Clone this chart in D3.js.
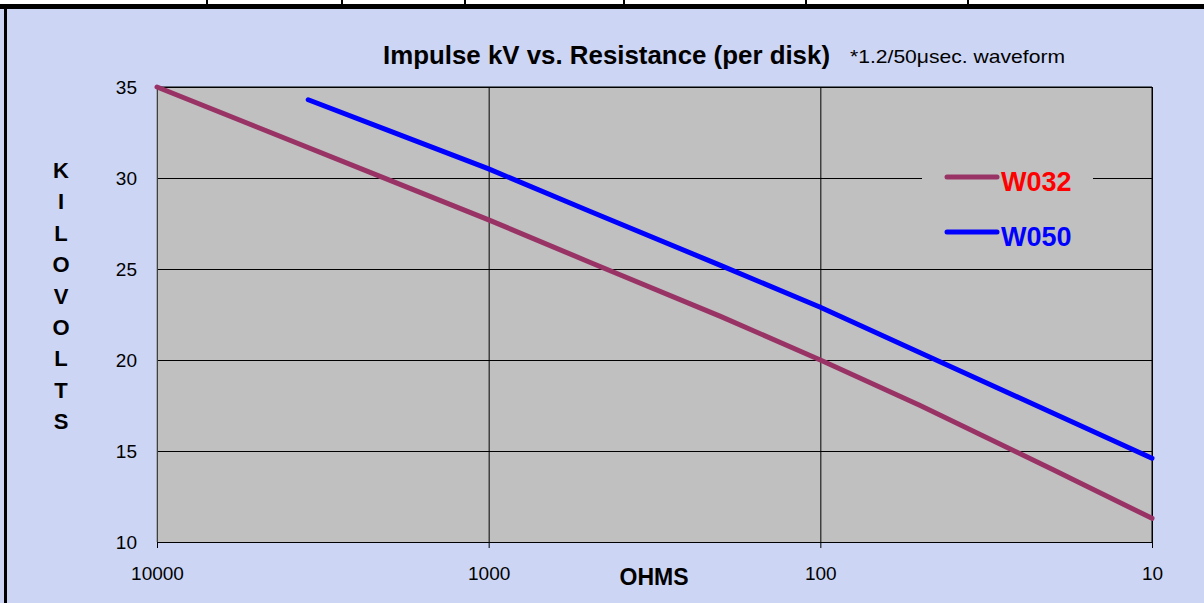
<!DOCTYPE html>
<html>
<head>
<meta charset="utf-8">
<script src="https://cdn.jsdelivr.net/npm/d3@7"></script>
<style>
  body { margin: 0; background: #fff; }
  svg { display: block; font-family: "Liberation Sans", Arial, sans-serif; }
</style>
</head>
<body>
<div id="chart"></div>
<script>
// values
const w032Ohms = [10000, 5000, 2000, 1000, 500, 200, 100, 50, 20, 10];
const w032Kv   = [35.0, 32.8, 29.9, 27.7, 25.4, 22.4, 20.0, 17.5, 14.0, 11.3];
const w050Ohms = [3500, 2000, 1000, 500, 200, 100, 50, 20, 10];
const w050Kv   = [34.3, 32.6, 30.5, 28.2, 25.2, 22.9, 20.4, 17.1, 14.6];
const xTicks = [10000, 1000, 100, 10];
const yTicks = [10, 15, 20, 25, 30, 35];
const seriesNames = ["W032", "W050"];
const yLabel = "KILOVOLTS";

const svgWidth = 1204, svgHeight = 603;
const margin = {top: 87, right: 52, bottom: 61, left: 157};
const width = svgWidth - margin.left - margin.right,
      height = svgHeight - margin.top - margin.bottom;

const svg = d3.select("#chart").append("svg")
  .attr("width", svgWidth)
  .attr("height", svgHeight);

// page background + frame from the surrounding sheet
svg.append("rect").attr("width", svgWidth).attr("height", svgHeight).attr("fill", "#ccd5f4");
svg.append("rect").attr("x", 0).attr("y", 0).attr("width", svgWidth).attr("height", 4).attr("fill", "#fff");
[207, 342, 465, 624, 806, 968].forEach(function(cx) {
  svg.append("rect").attr("x", cx - 1).attr("y", 0).attr("width", 2).attr("height", 4).attr("fill", "#000");
});
svg.append("rect").attr("x", 0).attr("y", 4).attr("width", svgWidth).attr("height", 5).attr("fill", "#000");
svg.append("rect").attr("x", 4).attr("y", 4).attr("width", 3).attr("height", svgHeight).attr("fill", "#000");

const x = d3.scaleLog().domain([10000, 10]).range([0, width]);
const y = d3.scaleLinear().domain([10, 35]).range([height, 0]);

const g = svg.append("g").attr("transform", "translate(" + margin.left + "," + margin.top + ")");

g.append("rect").attr("width", width).attr("height", height).attr("fill", "#c0c0c0");

// grid
g.append("g")
  .call(d3.axisLeft(y).tickValues(yTicks).tickSize(-width).tickFormat(""))
  .call(function(s) { s.select(".domain").remove(); })
  .selectAll("line").attr("stroke", "#000").attr("stroke-width", 1);
g.append("g")
  .call(d3.axisTop(x).tickValues(xTicks).tickSize(-height).tickFormat(""))
  .call(function(s) { s.select(".domain").remove(); })
  .selectAll("line").attr("stroke", "#000").attr("stroke-width", 1);

// legend background breaks the 30 gridline
g.append("rect")
  .attr("x", 922 - margin.left).attr("y", 150 - margin.top)
  .attr("width", 171).attr("height", 110)
  .attr("fill", "#c0c0c0");

// frame
g.append("line").attr("x1", 0).attr("x2", width).attr("y1", 0).attr("y2", 0).attr("stroke", "#000");
g.append("line").attr("x1", width).attr("x2", width).attr("y1", 0).attr("y2", height).attr("stroke", "#000");
g.append("line").attr("x1", 0).attr("x2", 0).attr("y1", 0).attr("y2", height).attr("stroke", "#808080");

// x axis
const xAxis = g.append("g")
  .attr("transform", "translate(0," + height + ")")
  .call(d3.axisBottom(x).tickValues(xTicks).tickSize(6).tickPadding(19).tickFormat(d3.format("d")));
xAxis.select(".domain").attr("stroke", "#000").attr("d", "M0,0.5H" + width);
xAxis.selectAll("line").attr("stroke", "#000");
xAxis.selectAll("text").attr("font-size", 19).attr("fill", "#000")
  .attr("font-family", "Liberation Sans, Arial, sans-serif");

// y axis labels
const yAxis = g.append("g")
  .call(d3.axisLeft(y).tickValues(yTicks).tickSize(0).tickPadding(20));
yAxis.select(".domain").remove();
yAxis.selectAll("text").attr("font-size", 19).attr("fill", "#000")
  .attr("font-family", "Liberation Sans, Arial, sans-serif");

// lines
const line = d3.line()
  .x(function(d) { return x(d[0]); })
  .y(function(d) { return y(d[1]); });

const series = [
  {name: seriesNames[0], color: "#993366", text: "#ff0000", data: d3.zip(w032Ohms, w032Kv)},
  {name: seriesNames[1], color: "#0000ff", text: "#0000ff", data: d3.zip(w050Ohms, w050Kv)}
];

g.selectAll(".series")
  .data(series)
  .enter().append("path")
    .attr("class", "series")
    .attr("fill", "none")
    .attr("stroke", function(d) { return d.color; })
    .attr("stroke-width", 5)
    .attr("stroke-linecap", "round")
    .attr("d", function(d) { return line(d.data); });

// legend
const legend = svg.selectAll(".legend")
  .data(series)
  .enter().append("g")
    .attr("class", "legend")
    .attr("transform", function(d, i) { return "translate(947," + (177 + i * 55) + ")"; });
legend.append("line")
  .attr("x1", 0).attr("x2", 50).attr("y1", 0).attr("y2", 0)
  .attr("stroke", function(d) { return d.color; })
  .attr("stroke-width", 5)
  .attr("stroke-linecap", "round");
legend.append("text")
  .attr("x", 54).attr("y", 14)
  .attr("font-size", 27).attr("font-weight", "bold")
  .attr("fill", function(d) { return d.text; })
  .text(function(d) { return d.name; });

// titles
svg.append("text")
  .attr("x", 383).attr("y", 64)
  .attr("font-size", 26).attr("font-weight", "bold")
  .attr("textLength", 447).attr("lengthAdjust", "spacingAndGlyphs")
  .text("Impulse kV vs. Resistance (per disk)");
svg.append("text")
  .attr("x", 850).attr("y", 63)
  .attr("font-size", 19)
  .attr("textLength", 215).attr("lengthAdjust", "spacingAndGlyphs")
  .text("*1.2/50\u03bcsec. waveform");

svg.append("text")
  .attr("x", 654).attr("y", 585)
  .attr("text-anchor", "middle")
  .attr("font-size", 23).attr("font-weight", "bold")
  .text("OHMS");

svg.append("g").selectAll("text")
  .data(yLabel.split(""))
  .enter().append("text")
    .attr("x", 61)
    .attr("y", function(d, i) { return 178 + i * 31.4; })
    .attr("text-anchor", "middle")
    .attr("font-size", 22).attr("font-weight", "bold")
    .text(function(d) { return d; });
</script>
</body>
</html>
